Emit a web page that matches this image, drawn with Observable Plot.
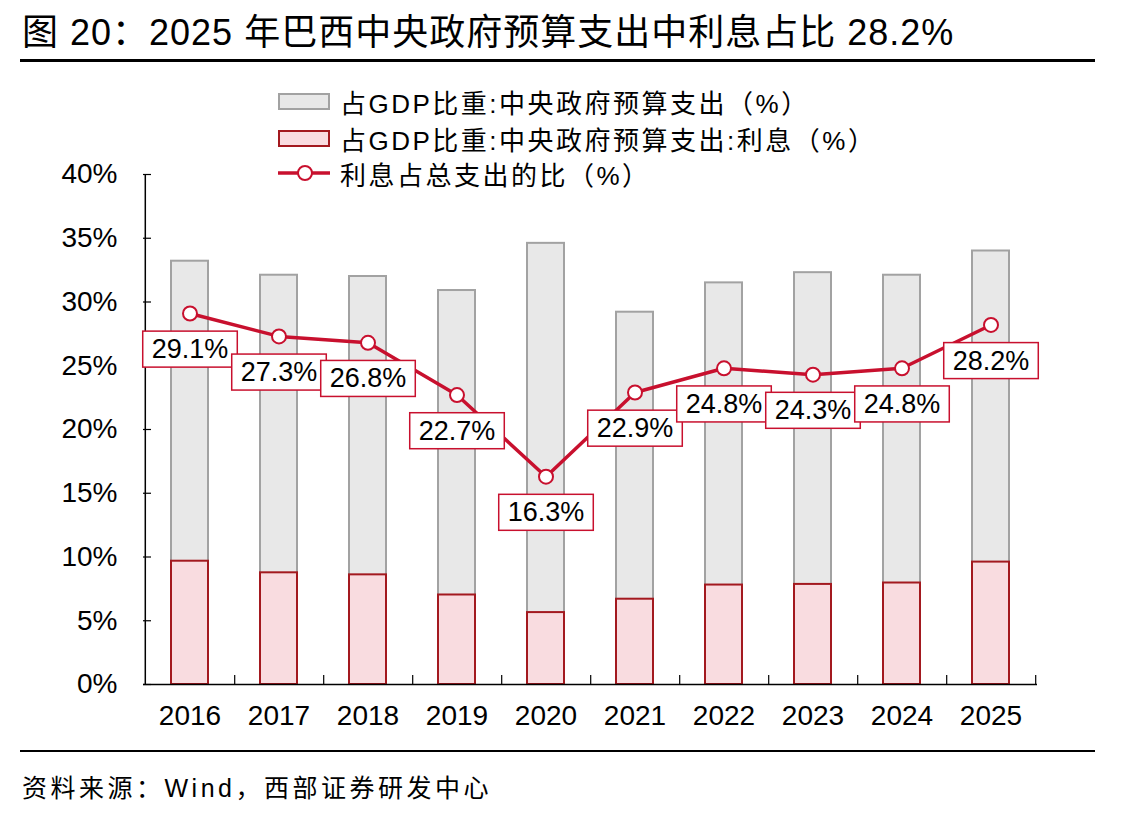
<!DOCTYPE html>
<html>
<head>
<meta charset="utf-8">
<script src="https://cdn.jsdelivr.net/npm/d3@7"></script>
<script src="https://cdn.jsdelivr.net/npm/@observablehq/plot@0.6"></script>
<style>
  html, body { margin: 0; padding: 0; background: #fff; }
  #page { position: relative; width: 1144px; height: 817px; overflow: hidden;
          font-family: "Liberation Sans", "Noto Sans CJK SC", sans-serif; color: #000; }
  #page svg.chart { position: absolute; left: 0; top: 0; }
  .title { position: absolute; left: 22px; top: 3px; font-size: 36px; white-space: nowrap; letter-spacing: 1px; }
  .hline { position: absolute; left: 20px; width: 1075px; background: #000; }
  .caption { position: absolute; left: 22px; top: 768px; font-size: 25px; white-space: nowrap; letter-spacing: 3.5px; }
  .legend { position: absolute; left: 278px; top: 86px; }
  .legend .row { position: absolute; left: 0; height: 30px; display: flex; align-items: center; white-space: nowrap; font-size: 26px; letter-spacing: 2.5px; }
  .legend svg { margin-right: 10px; }
</style>
</head>
<body>
<div id="page"></div>
<script>
// Brazil central government budget: spending and interest as % of GDP
const years = ["2016", "2017", "2018", "2019", "2020", "2021", "2022", "2023", "2024", "2025"];
const totalSpend = [33.2, 32.1, 32.0, 30.9, 34.6, 29.2, 31.5, 32.3, 32.1, 34.0];   // 占GDP比重:中央政府预算支出
const interestSpend = [9.67, 8.76, 8.6, 7.02, 5.64, 6.69, 7.8, 7.85, 7.96, 9.6];  // 占GDP比重:中央政府预算支出:利息
const interestShare = [29.1, 27.3, 26.8, 22.7, 16.3, 22.9, 24.8, 24.3, 24.8, 28.2]; // 利息占总支出的比
const yTicks = [0, 5, 10, 15, 20, 25, 30, 35, 40];

const titleText = "图 20：2025 年巴西中央政府预算支出中利息占比 28.2%";
const captionText = "资料来源：Wind，西部证券研发中心";
const legendLabels = ["占GDP比重:中央政府预算支出（%）", "占GDP比重:中央政府预算支出:利息（%）", "利息占总支出的比（%）"];

const colors = {
  totalFill: "#e8e8e8", totalStroke: "#a2a2a2",
  intFill: "#f9dce0", intStroke: "#a3191f",
  line: "#c8102e"
};

const rows = years.map((year, i) => ({
  year, total: totalSpend[i], interest: interestSpend[i], share: interestShare[i]
}));

const W = 1144, H = 817;
const mL = 143, mR = 107, mT = 174, mB = 133;
const plotW = W - mL - mR, plotH = H - mT - mB;
const step = plotW / years.length;

const chart = Plot.plot({
  width: W, height: H,
  marginLeft: mL, marginRight: mR, marginTop: mT, marginBottom: mB,
  style: { fontFamily: "Liberation Sans, Arial, sans-serif", fontSize: "26px", color: "#000", background: "transparent" },
  x: { type: "band", domain: years, paddingInner: 0.586, paddingOuter: 0.293, label: null },
  y: { domain: [0, 40], label: null },
  marks: [
    Plot.barY(rows, { x: "year", y: "total", fill: colors.totalFill, stroke: colors.totalStroke, strokeWidth: 2 }),
    Plot.barY(rows, { x: "year", y: "interest", fill: colors.intFill, stroke: colors.intStroke, strokeWidth: 2 }),
    // axes: baseline, left spine, inward ticks
    Plot.ruleY([0], { stroke: "#000", strokeWidth: 1.5 }),
    Plot.ruleX(years.slice(0, 1), { dx: -step / 2, stroke: "#000", strokeWidth: 1.5 }),
    Plot.ruleY(yTicks, { stroke: "#000", strokeWidth: 1.2, insetRight: plotW - 8 }),
    Plot.ruleX(years, { dx: step / 2, stroke: "#000", strokeWidth: 1.2, insetTop: plotH - 9 }),
    Plot.axisX({ tickSize: 0, tickPadding: 21, fontSize: 28 }),
    Plot.axisY({ ticks: yTicks, tickSize: 0, tickPadding: 26, tickFormat: d => d + "%", fontSize: 28 }),
    // interest share line
    Plot.line(rows, { x: "year", y: "share", stroke: colors.line, strokeWidth: 3.5 }),
    Plot.dot(rows, { x: "year", y: "share", r: 7, fill: "#fff", stroke: colors.line, strokeWidth: 2 }),
    Plot.text(rows, { x: "year", y: "share", text: d => d.share.toFixed(1) + "%", dy: 36, fontSize: 27, fill: "#000", className: "vlabel" })
  ]
});
chart.classList.add("chart");

const page = document.getElementById("page");
page.appendChild(chart);

// boxed value labels: white box with red border behind each label
const ns = "http://www.w3.org/2000/svg";
chart.querySelectorAll("g.vlabel text").forEach(t => {
  const b = t.getBBox();
  const r = document.createElementNS(ns, "rect");
  const padX = 9, padY = 3;
  r.setAttribute("x", b.x - padX);
  r.setAttribute("y", b.y - padY);
  r.setAttribute("width", b.width + 2 * padX);
  r.setAttribute("height", b.height + 2 * padY);
  r.setAttribute("fill", "#fff");
  r.setAttribute("stroke", colors.line);
  r.setAttribute("stroke-width", 1.5);
  const tr = t.getAttribute("transform");
  if (tr) r.setAttribute("transform", tr);
  t.parentNode.insertBefore(r, t);
});

// title, rules, caption
const title = document.createElement("div");
title.className = "title";
title.textContent = titleText;
page.appendChild(title);

const topLine = document.createElement("div");
topLine.className = "hline";
topLine.style.top = "59px"; topLine.style.height = "2.5px";
page.appendChild(topLine);

const bottomLine = document.createElement("div");
bottomLine.className = "hline";
bottomLine.style.top = "750px"; bottomLine.style.height = "2px";
page.appendChild(bottomLine);

const caption = document.createElement("div");
caption.className = "caption";
caption.textContent = captionText;
page.appendChild(caption);

// legend
const legend = document.createElement("div");
legend.className = "legend";
page.appendChild(legend);
const rowCenters = [15.5, 52, 87];
legendLabels.forEach((label, i) => {
  const row = document.createElement("div");
  row.className = "row";
  row.style.top = (rowCenters[i] - 15) + "px";
  let sw;
  if (i < 2) {
    sw = `<svg width="52" height="17"><rect x="1" y="1" width="50" height="15" fill="${i === 0 ? colors.totalFill : colors.intFill}" stroke="${i === 0 ? colors.totalStroke : colors.intStroke}" stroke-width="2"/></svg>`;
  } else {
    sw = `<svg width="52" height="20"><line x1="0" x2="52" y1="10" y2="10" stroke="${colors.line}" stroke-width="3.5"/><circle cx="27" cy="10" r="7" fill="#fff" stroke="${colors.line}" stroke-width="2"/></svg>`;
  }
  row.innerHTML = sw + `<span>${label}</span>`;
  legend.appendChild(row);
});
</script>
</body>
</html>
